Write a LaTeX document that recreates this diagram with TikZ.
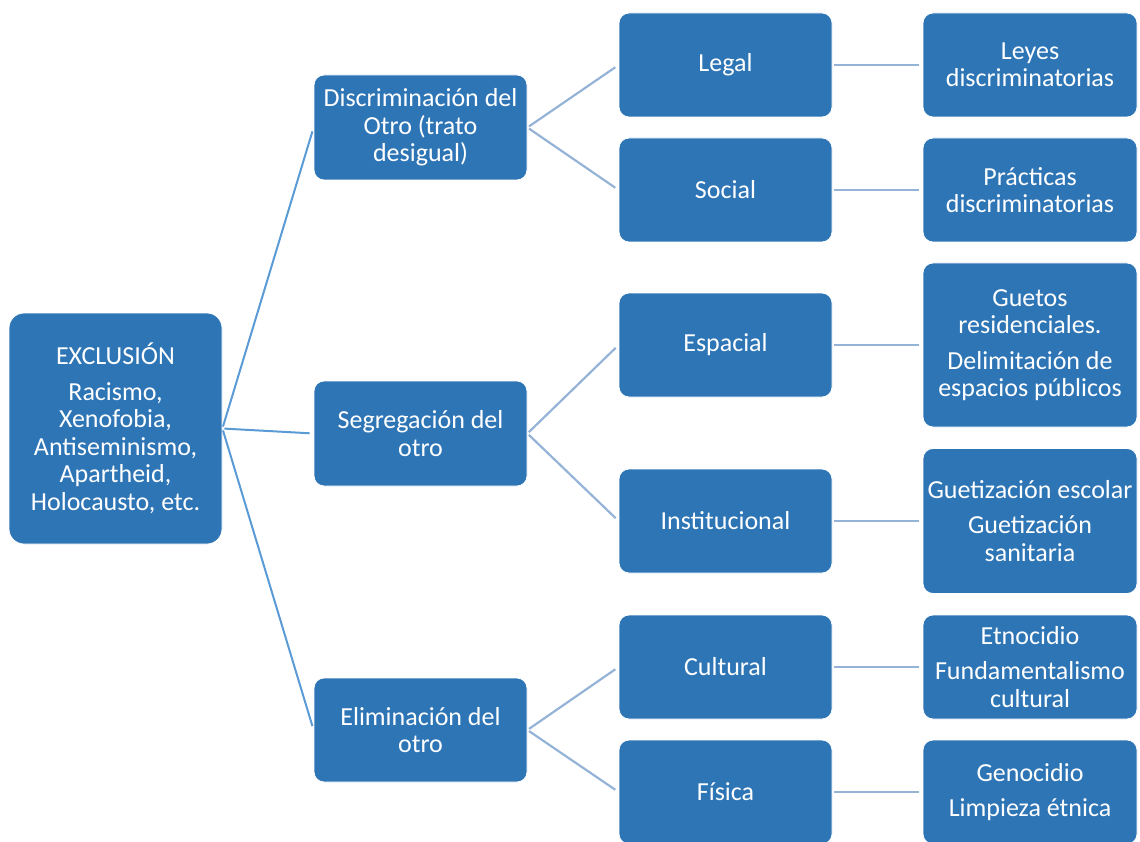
\documentclass[tikz,border=0pt]{standalone}
\usepackage{fontspec}
\setmainfont{Carlito}
\definecolor{boxblue}{HTML}{2E75B6}
\definecolor{darkline}{HTML}{5B9BD5}
\definecolor{lightline}{HTML}{95B3D7}
\begin{document}
\begin{tikzpicture}[x=1pt,y=-1pt,
  box/.style={draw=white, line width=0.8pt, fill=boxblue, rounded corners=10pt,
    text=white, align=center, font=\fontsize{26}{27.5}\selectfont, inner sep=0pt,
    minimum width=213pt},
  rootlink/.style={draw=darkline, line width=2pt, shorten <=2pt, shorten >=4pt},
  sublink/.style={draw=lightline, line width=2.2pt, shorten <=2pt, shorten >=4pt}]
\useasboundingbox (0,0) rectangle (1140,842);
% root
\node[box, rounded corners=15pt, minimum height=231pt] (root) at (115.5,428.5)
  {EXCLUSIÓN\\[8pt]Racismo,\\Xenofobia,\\Antiseminismo,\\Apartheid,\\Holocausto, etc.};
% level 1
\node[box, minimum height=105pt] (disc) at (420.5,127.5) {Discriminación del\\Otro (trato\\desigual)};
\node[box, minimum height=105pt] (seg) at (420.5,433.5) {Segregación del\\otro};
\node[box, minimum height=104pt] (elim) at (420.5,730) {Eliminación del\\otro};
% level 2
\node[box, minimum height=104pt] (legal) at (725.5,65) {Legal};
\node[box, minimum height=104pt] (social) at (725.5,190) {Social};
\node[box, minimum height=104pt] (espacial) at (725.5,345) {Espacial};
\node[box, minimum height=104pt] (inst) at (725.5,521) {Institucional};
\node[box, minimum height=104pt] (cultural) at (725.5,667) {Cultural};
\node[box, minimum height=104pt] (fisica) at (725.5,792) {Física};
% level 3
\node[box, minimum width=214pt, minimum height=104pt] (leyes) at (1030,65) {Leyes\\discriminatorias};
\node[box, minimum width=214pt, minimum height=104pt] (practicas) at (1030,190) {Prácticas\\discriminatorias};
\node[box, minimum width=214pt, minimum height=164pt] (guetos) at (1030,345)
  {Guetos\\residenciales.\\[8pt]Delimitación de\\espacios públicos};
\node[box, minimum width=214pt, minimum height=145pt] (guetiz) at (1030,521)
  {Guetización escolar\\[8pt]Guetización\\sanitaria};
\node[box, minimum width=214pt, minimum height=104pt] (etno) at (1030,667)
  {Etnocidio\\[8pt]Fundamentalismo\\cultural};
\node[box, minimum width=214pt, minimum height=104pt] (geno) at (1030,792)
  {Genocidio\\[8pt]Limpieza étnica};
% connectors
\draw[rootlink] (root.east) -- (disc.west);
\draw[rootlink] (root.east) -- (seg.west);
\draw[rootlink] (root.east) -- (elim.west);
\draw[sublink] (disc.east) -- (legal.west);
\draw[sublink] (disc.east) -- (social.west);
\draw[sublink] (seg.east) -- (espacial.west);
\draw[sublink] (seg.east) -- (inst.west);
\draw[sublink] (elim.east) -- (cultural.west);
\draw[sublink] (elim.east) -- (fisica.west);
\draw[sublink] (legal.east) -- (leyes.west);
\draw[sublink] (social.east) -- (practicas.west);
\draw[sublink] (espacial.east) -- (guetos.west);
\draw[sublink] (inst.east) -- (guetiz.west);
\draw[sublink] (cultural.east) -- (etno.west);
\draw[sublink] (fisica.east) -- (geno.west);
\end{tikzpicture}
\end{document}
